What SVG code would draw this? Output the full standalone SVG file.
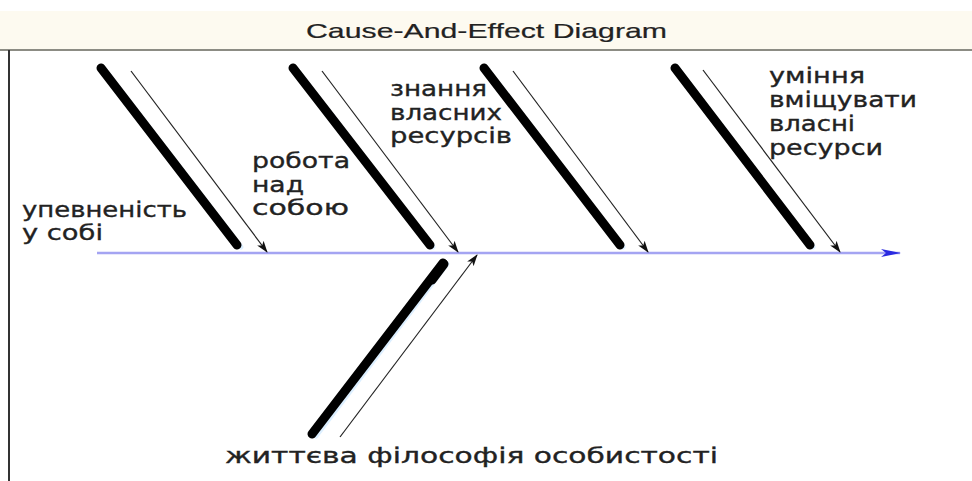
<svg xmlns="http://www.w3.org/2000/svg" width="972" height="481" viewBox="0 0 972 481">
  <style>
    .lbl { font-family: "DejaVu Sans", "Noto Sans", sans-serif; font-size: 22px; fill: #222; stroke: #222; stroke-width: 0.35; }
    .title { font-family: "Liberation Sans", Arial, sans-serif; font-size: 21px; fill: #222; stroke: #222; stroke-width: 0.2; }
    .bone { stroke: #000; stroke-width: 9; stroke-linecap: round; fill: none; }
    .halo { stroke: #dcefff; stroke-width: 5; stroke-linecap: round; fill: none; }
    .thin { stroke: #222; stroke-width: 1.2; fill: none; marker-end: url(#arr); }
  </style>
  <defs>
    <marker id="arr" viewBox="0 0 12 8" refX="11" refY="4" markerWidth="12" markerHeight="8" markerUnits="userSpaceOnUse" orient="auto">
      <path d="M0,0 L12,4 L0,8 L3,4 Z" fill="#111"/>
    </marker>
    <marker id="barr" viewBox="0 0 20 8" refX="19" refY="4" markerWidth="20" markerHeight="8" markerUnits="userSpaceOnUse" orient="auto">
      <path d="M0,0 L20,4 L0,8 L5,4 Z" fill="#2a2ae0"/>
    </marker>
  </defs>
  <rect x="0" y="0" width="972" height="481" fill="#fff"/>
  <rect x="0" y="11" width="972" height="39" fill="#fdfaf0"/>
  <line x1="0" y1="50" x2="972" y2="50" stroke="#8c8c84" stroke-width="2"/>
  <line x1="9" y1="50" x2="9" y2="481" stroke="#333" stroke-width="2"/>
  <text class="title" x="306" y="38" textLength="361" lengthAdjust="spacingAndGlyphs">Cause-And-Effect Diagram</text>

  <g id="connectors">
    <line x1="97" y1="253" x2="900" y2="253" stroke="#a4a4f2" stroke-width="2.5" marker-end="url(#barr)"/>
    <line class="thin" x1="131" y1="71" x2="267" y2="252"/>
    <line class="thin" x1="322" y1="71" x2="458" y2="252"/>
    <line class="thin" x1="513" y1="71" x2="648" y2="252"/>
    <line class="thin" x1="703" y1="70" x2="840" y2="252"/>
    <line class="thin" x1="340" y1="437" x2="477" y2="255"/>
  </g>

  <g id="cause1">
    <line class="halo" x1="104" y1="69" x2="241" y2="247"/>
    <line class="bone" x1="101" y1="68" x2="237" y2="245"/>
    <text class="lbl" x="22" y="217" textLength="165" lengthAdjust="spacingAndGlyphs">упевненість</text>
    <text class="lbl" x="22" y="240" textLength="81" lengthAdjust="spacingAndGlyphs">у собі</text>
  </g>

  <g id="cause2">
    <line class="halo" x1="296" y1="69" x2="433" y2="247"/>
    <line class="bone" x1="293" y1="68" x2="430" y2="245"/>
    <text class="lbl" x="252" y="168" textLength="98" lengthAdjust="spacingAndGlyphs">робота</text>
    <text class="lbl" x="252" y="192" textLength="52" lengthAdjust="spacingAndGlyphs">над</text>
    <text class="lbl" x="252" y="215" textLength="97" lengthAdjust="spacingAndGlyphs">собою</text>
  </g>

  <g id="cause3">
    <line class="halo" x1="487" y1="69" x2="623" y2="247"/>
    <line class="bone" x1="484" y1="68" x2="620" y2="245"/>
    <text class="lbl" x="390" y="96" textLength="97" lengthAdjust="spacingAndGlyphs">знання</text>
    <text class="lbl" x="390" y="120" textLength="112" lengthAdjust="spacingAndGlyphs">власних</text>
    <text class="lbl" x="390" y="143" textLength="122" lengthAdjust="spacingAndGlyphs">ресурсів</text>
  </g>

  <g id="cause4">
    <line class="halo" x1="678" y1="69" x2="813" y2="247"/>
    <line class="bone" x1="675" y1="68" x2="810" y2="245"/>
    <text class="lbl" x="769" y="83" textLength="96" lengthAdjust="spacingAndGlyphs">уміння</text>
    <text class="lbl" x="769" y="107" textLength="148" lengthAdjust="spacingAndGlyphs">вміщувати</text>
    <text class="lbl" x="769" y="131" textLength="86" lengthAdjust="spacingAndGlyphs">власні</text>
    <text class="lbl" x="769" y="155" textLength="114" lengthAdjust="spacingAndGlyphs">ресурси</text>
  </g>

  <g id="cause5">
    <line class="halo" x1="316" y1="436" x2="447" y2="264"/>
    <line class="bone" x1="312" y1="434" x2="443" y2="263"/>
    <line class="bone" x1="432" y1="280" x2="444" y2="264" stroke-width="12"/>
    <text class="lbl" x="225" y="463" textLength="493" lengthAdjust="spacingAndGlyphs">життєва філософія особистості</text>
  </g>
</svg>
